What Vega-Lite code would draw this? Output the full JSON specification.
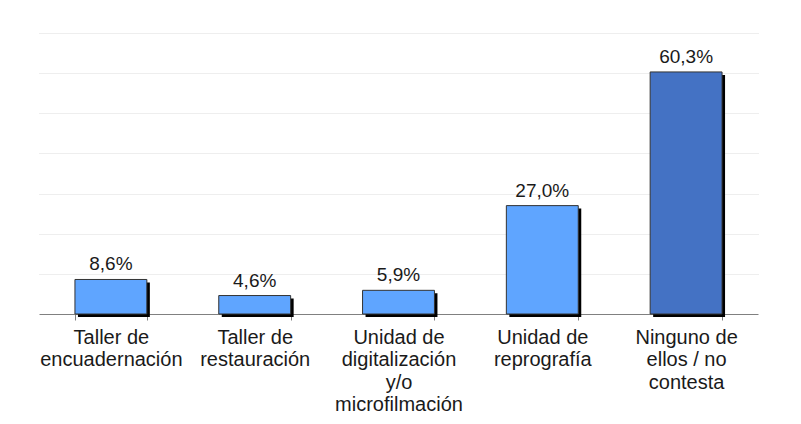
{
  "$schema": "https://vega.github.io/schema/vega-lite/v6.json",
  "width": 719,
  "height": 281,
  "autosize": {"type": "none"},
  "padding": {"left": 39, "top": 33, "right": 43, "bottom": 110},
  "background": "white",
  "config": {
    "view": {"stroke": null},
    "locale": {
      "number": {"decimal": ",", "thousands": ".", "grouping": [3], "currency": ["", " €"]}
    },
    "font": "Liberation Sans"
  },
  "data": {
    "values": [
      {"categoria": "Taller de|encuadernación", "valor": 0.086},
      {"categoria": "Taller de|restauración", "valor": 0.046},
      {"categoria": "Unidad de|digitalización|y/o|microfilmación", "valor": 0.059},
      {"categoria": "Unidad de|reprografía", "valor": 0.27},
      {"categoria": "Ninguno de|ellos / no|contesta", "valor": 0.603}
    ]
  },
  "encoding": {
    "x": {
      "field": "categoria",
      "type": "nominal",
      "sort": null,
      "scale": {"paddingInner": 0.5, "paddingOuter": 0.25},
      "axis": {
        "title": null,
        "labelAngle": 0,
        "labelExpr": "split(datum.label, '|')",
        "labelFont": "Liberation Sans",
        "labelFontSize": 20,
        "labelLineHeight": 22.5,
        "labelColor": "#1a1a1a",
        "labelPadding": 7,
        "labelLimit": 0,
        "tickBand": "extent",
        "tickSize": 6,
        "tickColor": "#808080",
        "domainColor": "#808080",
        "grid": false
      }
    },
    "y": {
      "field": "valor",
      "type": "quantitative",
      "scale": {"domain": [0, 0.7], "nice": false},
      "axis": {
        "title": null,
        "labels": false,
        "ticks": false,
        "domain": false,
        "values": [0.1, 0.2, 0.3, 0.4, 0.5, 0.6, 0.7],
        "gridColor": "#dcdcdc",
        "gridDash": [1, 1],
        "gridWidth": 1
      }
    }
  },
  "layer": [
    {
      "mark": {"type": "bar", "color": "#000000", "xOffset": 3, "yOffset": 3}
    },
    {
      "mark": {"type": "bar", "stroke": "#333333", "strokeWidth": 1},
      "encoding": {
        "color": {
          "condition": {"test": "datum.valor > 0.5", "value": "#4472C4"},
          "value": "#5FA5FF"
        }
      }
    },
    {
      "mark": {"type": "text", "baseline": "alphabetic", "dy": -9, "fontSize": 19, "font": "Liberation Sans", "color": "#1a1a1a"},
      "encoding": {
        "text": {"field": "valor", "type": "quantitative", "format": ".1%"}
      }
    }
  ]
}
